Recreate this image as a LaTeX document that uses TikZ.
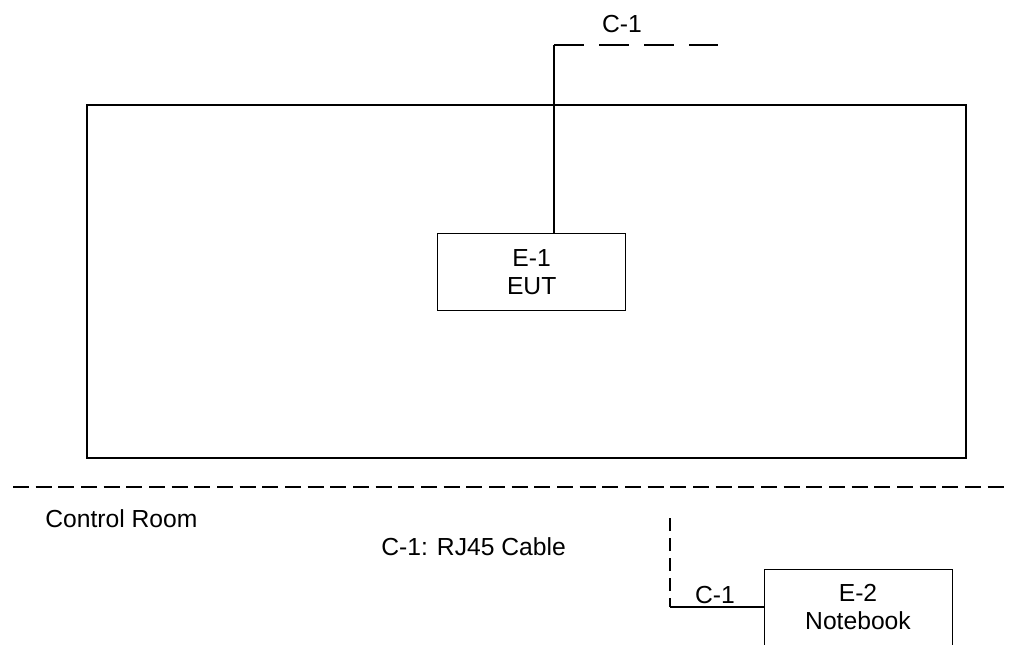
\documentclass[tikz,border=0pt]{standalone}
\usepackage{fontspec}
\setmainfont{Liberation Sans}
\begin{document}
\begin{tikzpicture}[x=0.75pt,y=-0.75pt,
  txt/.style={inner sep=0pt,font=\fontsize{18.5}{21}\selectfont},
  box/.style={draw,line width=1pt,inner sep=0pt},
  boxtext/.style={inner sep=0pt,align=center,font=\fontsize{18.5}{21}\selectfont},
  wire/.style={line width=1.2pt},
  cabledash/.style={line width=1.6pt,dash pattern=on 22.5pt off 11.25pt},
  roomdash/.style={line width=1.9pt,dash pattern=on 12pt off 5pt},
  vdash/.style={line width=1.6pt,dash pattern=on 9.75pt off 5.25pt}]
\useasboundingbox (0,0) rectangle (1010,644);
\begin{scope}
\clip (0,0) rectangle (1010,644);
% test chamber
\draw[line width=1pt] (87,105) rectangle (966,458);
\node[box,minimum width=188*0.75pt,minimum height=77*0.75pt,anchor=north west] (eut) at (437,233) {};
\node[boxtext] (euttext) at (eut.center) {E-1\\EUT};
\coordinate (c1corner) at (554,45);
\coordinate (c1end) at (718,45);
\draw[wire] (eut.north -| c1corner) -- (c1corner);
\draw[cabledash] (c1corner) -- (c1end);
\node[txt] (c1top) at (622,24) {C-1};
% separator
\coordinate (sepL) at (13,487);
\coordinate (sepR) at (1008,487);
\draw[roomdash] (sepL) -- (sepR);
\node[txt,anchor=west] (room) at (45,519) {Control Room};
\node[txt,anchor=west] (legend) at (381,547) {C-1: RJ45 Cable};
% notebook
\node[box,minimum width=188*0.75pt,minimum height=90*0.75pt,anchor=north west] (nb) at (764,569) {};
\node[boxtext] (nbtext) at (858,607) {E-2\\Notebook};
\coordinate (vtop) at (670,518);
\coordinate (vcorner) at (670,607);
\draw[vdash] (vtop) -- (vcorner);
\draw[wire] (vcorner) -- (vcorner -| nb.west);
\node[txt] (c1low) at (715,595) {C-1};
\end{scope}
\end{tikzpicture}
\end{document}
